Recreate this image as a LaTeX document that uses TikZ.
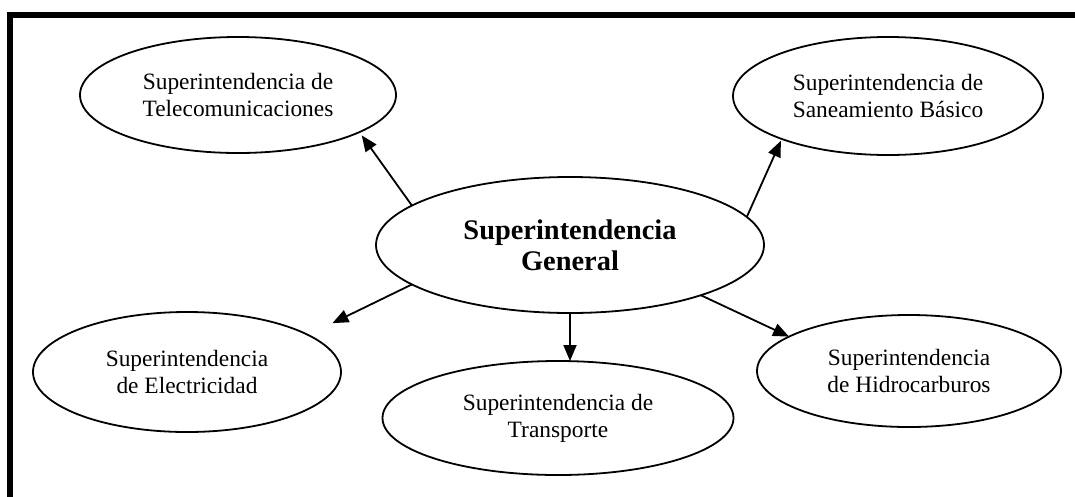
\documentclass[tikz,border=0pt]{standalone}
\usepackage{fontspec}
\setmainfont{Liberation Serif}
\usetikzlibrary{arrows.meta,shapes.geometric}
\begin{document}
\begin{tikzpicture}[x=1pt,y=-1pt,
  oval/.style={ellipse,draw,line width=1.8pt,inner sep=0pt,outer sep=0pt,align=center,
    font=\fontsize{23.4}{27}\selectfont},
  bigoval/.style={oval,font=\fontsize{28.4}{31}\selectfont\bfseries},
  link/.style={line width=1.8pt,-{Triangle[length=16pt,width=13pt]}},
  frameline/.style={line width=6pt,line join=miter}]
\useasboundingbox (0,0) rectangle (1075,496);
\draw[frameline] (1085,15.3) -- (10,15.3) -- (10,505);
\node[bigoval,minimum width=388pt,minimum height=136pt] (gen) at (570,245) {Superintendencia\\General};
\node[oval,minimum width=316pt,minimum height=116pt] (tel) at (238,95) {Superintendencia de\\Telecomunicaciones};
\node[oval,minimum width=310pt,minimum height=118pt] (san) at (888,96) {Superintendencia de\\Saneamiento Básico};
\node[oval,minimum width=308pt,minimum height=120pt] (ele) at (187,372) {Superintendencia\\de Electricidad};
\node[oval,minimum width=351pt,minimum height=114pt] (tra) at (558,418) {Superintendencia de\\Transporte};
\node[oval,minimum width=304pt,minimum height=112pt] (hid) at (909,371) {Superintendencia\\de Hidrocarburos};
\draw[link,shorten >=4pt] (gen.166.4) -- (tel.-17.7);
\draw[link,shorten >=2pt] (gen.9.8) -- (san.202.6);
\draw[link,shorten >=27pt] (gen.194.8) -- (ele.17);
\draw[link] (gen.south) -- (gen.south |- tra.north);
\draw[link] (gen.-21.4) -- (hid.164.8);
\end{tikzpicture}
\end{document}
